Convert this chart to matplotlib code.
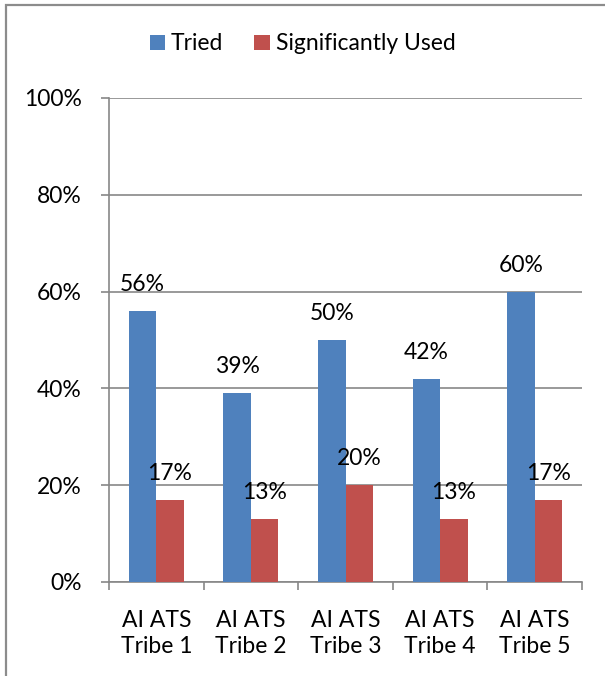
import matplotlib
matplotlib.use("Agg")
import matplotlib.pyplot as plt
from matplotlib.patches import Rectangle
import numpy as np

categories = ["AI ATS\nTribe 1", "AI ATS\nTribe 2", "AI ATS\nTribe 3", "AI ATS\nTribe 4", "AI ATS\nTribe 5"]
tried = [56, 39, 50, 42, 60]
significantly_used = [17, 13, 20, 13, 17]
series_names = ["Tried", "Significantly Used"]
y_ticks = [0, 20, 40, 60, 80, 100]

BLUE = "#4F81BD"
RED = "#C0504D"
GRID = "#878787"

plt.rcParams["font.family"] = ["Lato", "DejaVu Sans"]

W, H = 605, 676
fig = plt.figure(figsize=(W / 100, H / 100), dpi=100)
ax = fig.add_axes([109 / W, 1 - 582 / H, (582 - 109) / W, (582 - 98) / H])

x = np.arange(len(categories))
bw = 0.29
b1 = ax.bar(x - bw / 2, tried, bw, color=BLUE, label=series_names[0], zorder=3)
b2 = ax.bar(x + bw / 2, significantly_used, bw, color=RED, label=series_names[1], zorder=3)

fs = 16.5
for bars, vals in ((b1, tried), (b2, significantly_used)):
    for rect, v in zip(bars, vals):
        ax.annotate(f"{v}%", (rect.get_x() + rect.get_width() / 2, v),
                    xytext=(0, 20), textcoords="offset pixels",
                    ha="center", va="baseline", fontsize=fs, color="black", zorder=4)

ax.set_xlim(-0.5, len(categories) - 0.5)
ax.set_ylim(0, 100)
ax.set_yticks(y_ticks)
ax.set_yticklabels([f"{t}%" for t in y_ticks], fontsize=fs)
ax.yaxis.grid(True, color=GRID, linewidth=1.2, zorder=0)
ax.set_axisbelow(True)

ax.set_xticks(x)
ax.set_xticklabels(categories, fontsize=fs, linespacing=1.3)
ax.tick_params(axis="x", length=0, pad=20)
ax.set_xticks(np.arange(-0.5, len(categories)), minor=True)
ax.tick_params(axis="x", which="minor", length=6, color=GRID, width=1.2)
ax.tick_params(axis="y", length=6, color=GRID, width=1.2, pad=13.5)

for side in ("top", "right"):
    ax.spines[side].set_visible(False)
for side in ("left", "bottom"):
    ax.spines[side].set_color(GRID)
    ax.spines[side].set_linewidth(1.2)

fig.legend(handles=[b1, b2], labels=series_names, loc="center",
           bbox_to_anchor=(0.5, 1 - 44 / H), ncol=2, frameon=False,
           fontsize=fs, handlelength=0.68, handleheight=0.68, handletextpad=0.25,
           columnspacing=1.35)

# chart frame
fig.patches.append(Rectangle((6 / W, -0.1), 1.2, 1 - 5 / H + 0.1,
                             transform=fig.transFigure, fill=False,
                             edgecolor="#8c8c8c", linewidth=1.6))

fig.savefig("out.png", dpi=100)
